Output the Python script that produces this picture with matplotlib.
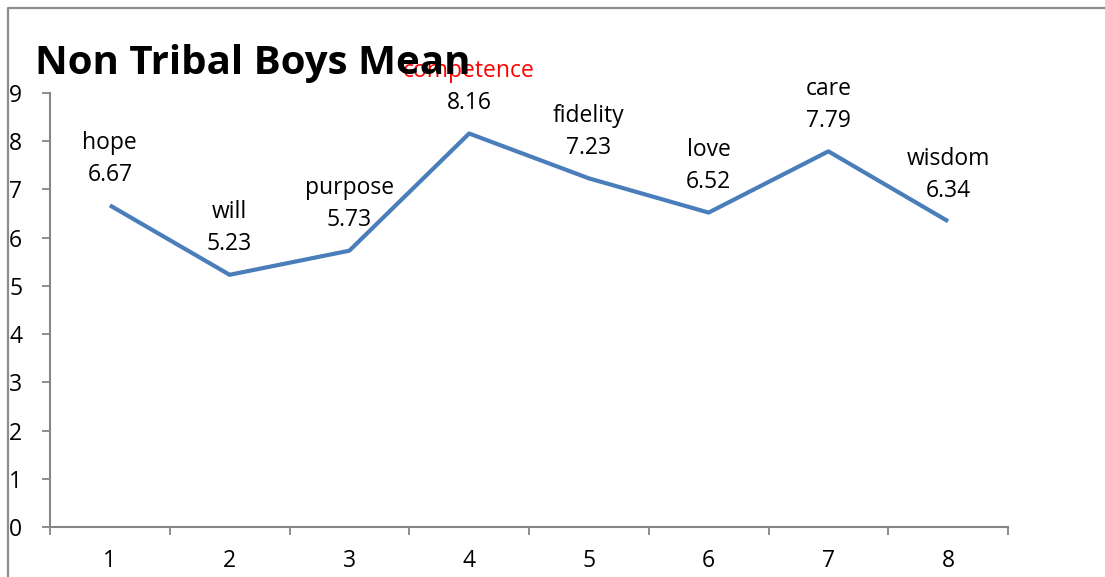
import matplotlib
matplotlib.use("Agg")
import matplotlib.pyplot as plt
from matplotlib.lines import Line2D

plt.rcParams['font.family'] = ['Open Sans', 'DejaVu Sans']

# data
categories = [1, 2, 3, 4, 5, 6, 7, 8]
means = [6.67, 5.23, 5.73, 8.16, 7.23, 6.52, 7.79, 6.34]
virtues = ['hope', 'will', 'purpose', 'competence', 'fidelity', 'love', 'care', 'wisdom']
y_ticks = [0, 1, 2, 3, 4, 5, 6, 7, 8, 9]

W, H = 1105, 577
fig = plt.figure(figsize=(W / 100, H / 100), dpi=100)
ax = fig.add_axes([50 / W, (H - 527) / H, (1008 - 50) / W, (527 - 93) / H])

line_col = '#4A7EBB'
axis_col = '#868686'
fs = 16.5

ax.plot(categories, means, color=line_col, linewidth=3.0, solid_capstyle='butt', zorder=3)

# data labels: virtue name over the value
for x, v, name in zip(categories, means, virtues):
    ax.annotate(f'{v:.2f}', (x, v), xytext=(0, 13.5), textcoords='offset points',
                ha='center', va='bottom', fontsize=fs, color='black')
    ax.annotate(name, (x, v), xytext=(0, 36.5), textcoords='offset points',
                ha='center', va='bottom', fontsize=fs,
                color='red' if name == 'competence' else 'black')

ax.set_xlim(0.5, 8.5)
ax.set_ylim(0, 9)
ax.set_yticks(y_ticks)
ax.set_yticklabels([str(t) for t in y_ticks], fontsize=fs)

# category boundaries get tick marks, labels sit in between
ax.set_xticks([c - 0.5 for c in categories] + [categories[-1] + 0.5])
ax.set_xticklabels([])
ax.set_xticks(categories, minor=True)
ax.set_xticklabels([str(c) for c in categories], minor=True, fontsize=fs)
ax.tick_params(axis='x', which='major', length=6, width=1.3, color=axis_col, direction='out')
ax.tick_params(axis='x', which='minor', length=0, pad=16)
ax.tick_params(axis='y', length=6, width=1.3, color=axis_col, direction='out', pad=14)

for side in ['top', 'right']:
    ax.spines[side].set_visible(False)
for side in ['left', 'bottom']:
    ax.spines[side].set_color(axis_col)
    ax.spines[side].set_linewidth(1.5)

fig.text(35 / W, (H - 74) / H, 'Non Tribal Boys Mean', fontsize=29,
         fontweight='bold', ha='left', va='baseline', zorder=10)

# chart area frame (only left and top edges visible)
fig.add_artist(Line2D([8 / W, 8 / W, 1.0], [0.0, 1 - 8 / H, 1 - 8 / H],
                      color='#8C8C8C', linewidth=1.6))

fig.savefig('out.png', dpi=100)
